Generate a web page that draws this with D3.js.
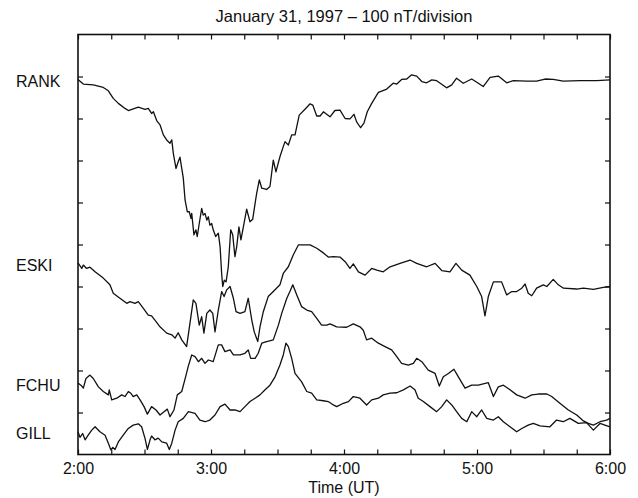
<!DOCTYPE html>
<html>
<head>
<meta charset="utf-8">
<script src="https://cdn.jsdelivr.net/npm/d3@7"></script>
<style>
  html, body { margin: 0; padding: 0; background: #fff; }
  svg { display: block; }
  text { font-family: "Liberation Sans", Arial, Helvetica, sans-serif; fill: #111; }
</style>
</head>
<body>
<svg id="chart" width="638" height="498"></svg>
<script>
// ---- data: time in minutes after 02:00 UT, value in nT on the stacked plot scale ----
const title = "January 31, 1997 \u2013 100 nT/division";
const xTitle = "Time (UT)";
const hourLabels = ["2:00", "3:00", "4:00", "5:00", "6:00"];
const stations = ["RANK", "ESKI", "FCHU", "GILL"];

const RANK = [[0,893],[2.4,882],[6.9,880],[11.4,874],[13.7,866],[15.9,848],[18.2,836],[21.2,824],[22.7,819],
 [27.2,827],[30.2,822],[31.7,824],[33.2,812],[34.0,816],[35.5,795],[37.0,785],[38.5,761],[40.0,749],[41.5,741],
 [42.3,749],[43.0,717],[44.2,681],[45.2,697],[46.0,708],[47.5,658],[48.3,606],[49.3,578],[50.2,578],[51.0,562],
 [51.3,574],[52.3,523],[53.2,535],[53.8,519],[54.7,550],[55.8,586],[56.5,570],[57.3,574],[58.1,558],[58.8,566],
 [59.5,546],[60.3,550],[61.0,535],[62.1,519],[63.3,527],[64.1,495],[64.8,431],[65.3,400],[66.0,415],[66.8,411],
 [67.8,447],[68.9,535],[69.8,523],[70.8,471],[71.6,495],[72.6,542],[73.5,511],[74.6,542],[76.1,584],[77.6,554],
 [78.8,560],[80.6,622],[81.8,654],[82.9,634],[85.1,631],[86.6,638],[88.1,701],[89.3,673],[91.1,709],[92.6,733],
 [93.4,745],[94.9,737],[96.4,761],[97.9,761],[99.8,808],[102.4,822],[104.7,835],[105.9,832],[107.7,806],[109.2,806],
 [110.7,816],[113.7,804],[115.9,819],[118.2,820],[120.5,800],[122.7,799],[124.5,810],[125.7,792],[127.5,778],
 [129.0,789],[130.5,816],[132.5,836],[135.5,862],[139.3,870],[142.2,884],[143.8,882],[146.0,893],[148.3,894],
 [150.5,904],[152.8,901],[155.1,888],[157.3,885],[159.6,892],[161.8,890],[166.3,873],[168.6,880],[170.8,896],
 [173.8,884],[177.6,894],[180.6,884],[182.8,876],[185.9,898],[189.6,901],[193.4,885],[196.4,890],[202.4,889],
 [206.9,889],[210.7,894],[214.4,893],[218.9,889],[226.5,890],[234.0,890],[240,892]];

const ESKI = [[0,456],[1.7,443],[2.4,451],[3.9,443],[5.4,446],[7.7,435],[11.4,420],[14.4,404],[15.9,384],[18.9,372],
 [22.0,360],[23.5,364],[25.7,360],[27.2,364],[29.5,348],[31.7,332],[33.2,330],[34.7,320],[37.0,304],[40.0,289],
 [42.3,285],[43.8,277],[45.2,290],[46.8,273],[49.0,257],[50.5,312],[52.0,368],[53.2,360],[54.7,308],[55.8,328],
 [56.8,289],[58.1,336],[59.5,344],[60.8,336],[61.8,292],[63.3,344],[64.8,388],[65.9,376],[67.1,392],[68.6,400],
 [70.1,372],[71.3,340],[73.1,336],[75.3,340],[76.8,372],[78.4,320],[79.5,292],[81.1,269],[82.1,304],[83.6,340],
 [85.8,376],[88.1,388],[91.1,404],[92.6,431],[94.9,447],[97.1,475],[99.4,499],[102.4,499],[104.7,499],[107.7,491],
 [110.7,480],[112.9,470],[115.2,471],[118.2,470],[120.5,459],[122.7,443],[124.2,454],[126.5,435],[129.5,427],
 [132.5,443],[134.8,439],[137.7,435],[140.8,447],[145.3,455],[149.8,463],[152.8,455],[157.3,447],[161.1,455],
 [164.1,438],[167.8,435],[170.5,455],[173.1,439],[176.8,427],[179.9,400],[182.1,376],[183.6,330],[185.1,376],
 [187.4,411],[191.1,411],[193.4,380],[195.7,388],[197.9,388],[200.2,396],[201.7,406],[203.1,384],[204.7,378],
 [206.9,396],[209.9,404],[211.5,400],[214.4,417],[216.7,404],[219.0,396],[225.0,394],[228.0,396],[232.5,393],
 [237.0,398],[240,400]];

const FCHU = [[0,170],[1.7,163],[2.4,158],[3.6,181],[5.4,189],[6.9,181],[9.2,161],[11.4,150],[13.7,142],[14.1,154],
 [15.2,130],[17.5,134],[19.7,142],[21.2,138],[22.7,150],[23.8,146],[24.9,138],[26.5,142],[28.0,130],[29.8,114],
 [31.3,96],[33.2,114],[35.2,106],[37.0,94],[38.8,102],[40.3,108],[41.5,90],[43.3,106],[44.8,142],[46.8,150],
 [48.3,180],[49.8,211],[51.3,237],[52.8,233],[54.3,221],[55.8,229],[57.3,217],[58.8,225],[61.0,221],[63.3,261],
 [64.8,261],[66.3,245],[68.6,249],[70.1,237],[73.1,237],[75.3,241],[76.8,249],[77.9,229],[79.9,229],[81.3,241],
 [82.9,265],[85.1,269],[88.1,273],[90.4,308],[91.9,336],[94.2,372],[95.6,388],[96.9,404],[98.7,380],[100.9,352],
 [103.2,344],[105.4,340],[107.7,324],[109.9,308],[112.2,308],[113.7,311],[116.7,304],[121.2,303],[124.2,311],
 [127.2,304],[128.7,296],[130.2,273],[132.5,277],[135.5,265],[138.5,257],[141.5,249],[143.8,233],[146.0,217],
 [149.0,213],[151.3,217],[152.8,229],[155.1,221],[158.0,201],[161.1,193],[163.0,163],[164.8,185],[167.1,193],
 [169.6,203],[171.6,185],[174.6,158],[177.6,165],[180.6,165],[182.8,168],[185.1,171],[187.4,138],[189.6,161],
 [191.9,165],[194.9,154],[197.9,142],[201.7,134],[204.7,142],[207.7,144],[211.5,144],[213.7,138],[217.4,122],
 [221.2,106],[225.0,94],[228.0,80],[230.2,74],[232.5,70],[235.5,78],[238.5,82],[240,86]];

const GILL = [[0,54],[0.9,41],[2.1,50],[3.2,35],[4.6,46],[6.2,58],[7.7,66],[9.9,54],[12.2,46],[13.7,27],[14.8,11],
 [15.7,17],[16.7,12],[18.2,30],[20.4,46],[22.7,62],[24.9,70],[27.2,73],[28.7,66],[30.2,39],[31.3,12],[32.5,35],
 [33.2,44],[34.7,35],[36.2,39],[37.8,30],[40.0,27],[41.2,12],[42.3,27],[43.8,58],[45.2,78],[47.5,86],[49.8,102],
 [52.8,98],[55.0,82],[57.3,78],[59.5,82],[61.8,94],[64.1,114],[66.3,120],[68.6,106],[70.8,106],[73.1,102],
 [75.3,114],[77.6,126],[79.9,134],[82.1,142],[84.4,154],[86.6,165],[88.9,185],[91.1,213],[92.6,237],[93.8,265],
 [94.9,257],[96.4,229],[97.9,193],[100.9,173],[103.2,150],[105.4,146],[107.7,130],[110.7,128],[112.9,126],
 [115.2,118],[116.7,114],[119.7,122],[122.0,126],[124.2,138],[127.2,134],[130.2,118],[132.5,130],[135.5,134],
 [137.7,142],[140.8,146],[143.8,147],[146.8,154],[149.8,163],[152.0,154],[153.5,134],[155.8,126],[158.8,114],
 [161.8,102],[164.1,114],[166.3,130],[168.6,118],[170.8,102],[173.1,86],[175.4,78],[177.6,102],[179.9,90],
 [182.1,106],[184.4,86],[187.4,82],[189.6,90],[191.9,78],[194.9,66],[197.9,54],[200.2,62],[203.1,70],[205.4,74],
 [208.4,68],[212.9,66],[215.9,82],[218.9,78],[221.9,86],[225.7,74],[229.4,76],[232.5,58],[235.5,74],[237.7,70],
 [240,66]];

const series = [RANK, ESKI, FCHU, GILL];

// ---- layout ----
const svg = d3.select("#chart");
const L = 78, R = 610, T = 34.5, B = 454.5;

const x = d3.scaleLinear().domain([0, 240]).range([L, R]);
const y = d3.scaleLinear().domain([0, 1000]).range([B, T]);

const xTicks = d3.range(0, 241, 15);
const yTicks = d3.range(100, 1000, 100);
const tickLen = 5;

function styleAxis(g) {
  g.select(".domain").remove();
  g.selectAll(".tick line").attr("stroke", "#111").attr("stroke-width", 1.2);
}

// bottom axis (ticks inward, labels at full hours)
svg.append("g").attr("transform", `translate(0,${B})`)
  .call(d3.axisBottom(x).tickValues(xTicks).tickSizeInner(-tickLen).tickSizeOuter(0)
    .tickPadding(8)
    .tickFormat(d => d % 60 === 0 ? hourLabels[d / 60] : ""))
  .call(styleAxis)
  .call(g => g.selectAll(".tick text").attr("font-size", 16).attr("fill", "#111")
    .attr("font-family", "'Liberation Sans', Arial, sans-serif"));

// top axis
svg.append("g").attr("transform", `translate(0,${T})`)
  .call(d3.axisTop(x).tickValues(xTicks).tickSizeInner(-tickLen).tickSizeOuter(0).tickFormat(""))
  .call(styleAxis);

// left axis
svg.append("g").attr("transform", `translate(${L},0)`)
  .call(d3.axisLeft(y).tickValues(yTicks).tickSizeInner(-tickLen).tickSizeOuter(0).tickFormat(""))
  .call(styleAxis);

// right axis
svg.append("g").attr("transform", `translate(${R},0)`)
  .call(d3.axisRight(y).tickValues(yTicks).tickSizeInner(-tickLen).tickSizeOuter(0).tickFormat(""))
  .call(styleAxis);

// frame
svg.append("rect").attr("x", L).attr("y", T).attr("width", R - L).attr("height", B - T)
  .attr("fill", "none").attr("stroke", "#111").attr("stroke-width", 1.6);

// traces
const line = d3.line().x(d => x(d[0])).y(d => y(d[1]));
svg.append("g").selectAll("path").data(series).join("path")
  .attr("d", line)
  .attr("fill", "none")
  .attr("stroke", "#111")
  .attr("stroke-width", 1.3)
  .attr("stroke-linejoin", "round");

// station labels at the start of each trace
svg.append("g").selectAll("text").data(series).join("text")
  .attr("x", 16)
  .attr("y", d => y(d[0][1]) + 2)
  .attr("dy", "0.35em")
  .attr("font-size", 16)
  .text((d, i) => stations[i]);

// title
svg.append("text").attr("x", (L + R) / 2).attr("y", 22)
  .attr("text-anchor", "middle").attr("font-size", 16.5).text(title);

// x axis title
svg.append("text").attr("x", (L + R) / 2).attr("y", 493)
  .attr("text-anchor", "middle").attr("font-size", 16).text(xTitle);
</script>
</body>
</html>
